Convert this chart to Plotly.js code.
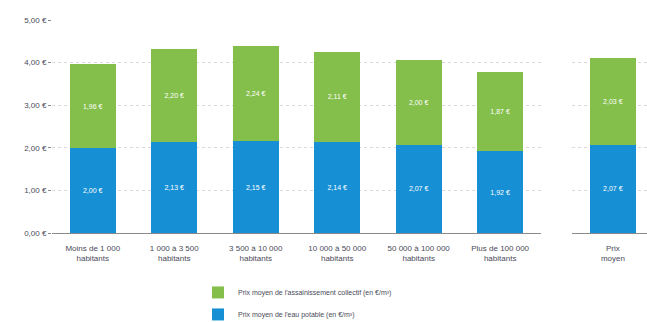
<!DOCTYPE html>
<html><head><meta charset="utf-8">
<script src="https://cdn.plot.ly/plotly-3.0.1.min.js"></script>
<style>html,body{margin:0;padding:0;background:#fff}#c{width:647px;height:322px}</style>
</head><body><div id="c"></div>
<script>
const categories = ["Moins de 1 000<br>habitants","1 000 à 3 500<br>habitants","3 500 à 10 000<br>habitants","10 000 à 50 000<br>habitants","50 000 à 100 000<br>habitants","Plus de 100 000<br>habitants"];
const eauPotable = [2.00, 2.13, 2.15, 2.14, 2.07, 1.92];
const assainissement = [1.96, 2.20, 2.24, 2.11, 2.00, 1.87];
const moyenCategory = ["Prix<br>moyen"];
const moyenEau = [2.07];
const moyenAssain = [2.03];
const nameEau = "Prix moyen de l'eau potable (en €/m³)";
const nameAssain = "Prix moyen de l'assainissement collectif (en €/m³)";

const blue = "#168fd5", green = "#84be4b";
const txt = {color:"#ffffff", size:7, family:"Liberation Sans, Arial, sans-serif"};
const common = {type:"bar", textposition:"inside", insidetextanchor:"middle", insidetextfont:txt,
  texttemplate:"%{y:.2f} €", hoverinfo:"skip", textangle:0, constraintext:"none"};

const data = [
  Object.assign({}, common, {x:categories, y:eauPotable, name:nameEau, marker:{color:blue}, width:0.565, xaxis:"x", yaxis:"y", legendrank:2, legendgroup:"eau"}),
  Object.assign({}, common, {x:categories, y:assainissement, name:nameAssain, marker:{color:green}, width:0.565, xaxis:"x", yaxis:"y", legendrank:1, legendgroup:"assain"}),
  Object.assign({}, common, {x:moyenCategory, y:moyenEau, name:nameEau, marker:{color:blue}, width:0.675, xaxis:"x2", yaxis:"y2", showlegend:false}),
  Object.assign({}, common, {x:moyenCategory, y:moyenAssain, name:nameAssain, marker:{color:green}, width:0.675, xaxis:"x2", yaxis:"y2", showlegend:false})
];

const tickFont = {size:8, color:"#4a4a5a", family:"Liberation Sans, Arial, sans-serif"};
const layout = {
  width:647, height:322,
  margin:{l:0, r:0, t:20, b:89, autoexpand:false},
  barmode:"stack",
  separators:", ",
  paper_bgcolor:"#ffffff", plot_bgcolor:"#ffffff",
  font:tickFont,
  xaxis:{domain:[0.0804, 0.836], showgrid:false, showline:true, linecolor:"#8a8a8a", linewidth:1,
    tickfont:tickFont, ticks:"outside", ticklen:7, tickcolor:"rgba(0,0,0,0)", fixedrange:true, automargin:false},
  yaxis:{range:[0,5], dtick:1, tickformat:".2f", ticksuffix:" €", showgrid:true, gridcolor:"#d9d9d9", griddash:"dot",
    zeroline:false, showline:false, ticks:"outside", ticklen:3, tickcolor:"#8a8a8a", tickfont:tickFont, automargin:false},
  xaxis2:{domain:[0.884, 1.0], anchor:"y2", range:[-0.6, 0.5], showgrid:false, showline:true, linecolor:"#8a8a8a", linewidth:1,
    tickfont:tickFont, ticks:"outside", ticklen:7, tickcolor:"rgba(0,0,0,0)", automargin:false},
  yaxis2:{anchor:"x2", range:[0,5], dtick:1, showticklabels:false, showgrid:true, gridcolor:"#d9d9d9", griddash:"dot",
    zeroline:false, showline:false, automargin:false},
  showlegend:true,
  legend:{orientation:"v", x:0.306, xanchor:"left", y:-0.211, yanchor:"top", traceorder:"grouped",
    font:{size:7, color:"#4a4a5a", family:"Liberation Sans, Arial, sans-serif"}, tracegroupgap:3, itemwidth:30, bgcolor:"rgba(0,0,0,0)"}
};
Plotly.newPlot("c", data, layout, {staticPlot:true, displayModeBar:false});
</script></body></html>
